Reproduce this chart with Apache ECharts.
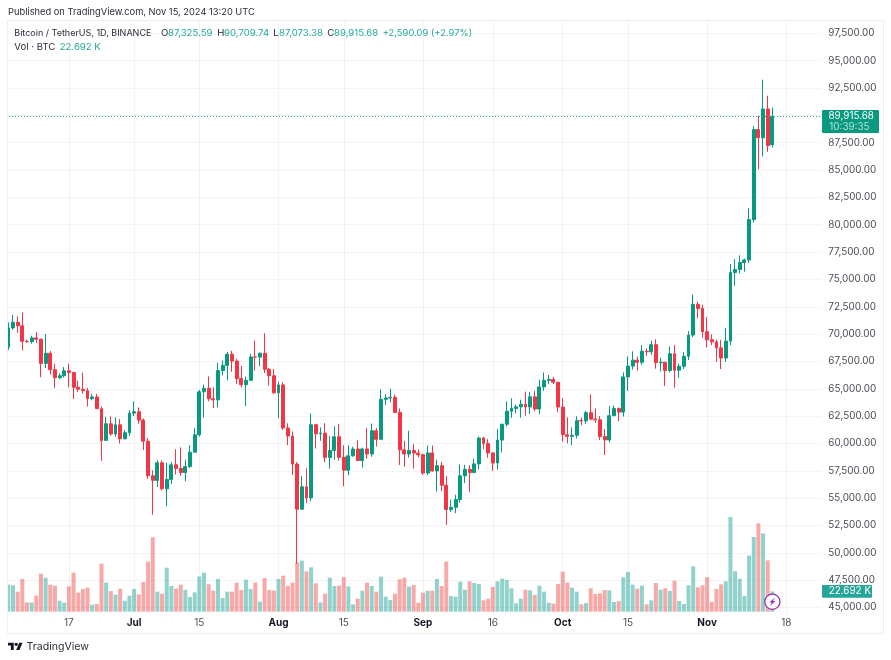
<!DOCTYPE html>
<html>
<head>
<meta charset="utf-8">
<title>BTCUSDT 1D</title>
<script src="https://cdn.jsdelivr.net/npm/echarts@6/dist/echarts.min.js"></script>
<style>
html, body { margin: 0; padding: 0; background: #fff; }
#chart { width: 891px; height: 660px; }
</style>
</head>
<body>
<div id="chart"></div>
<script>
// date, open, high, low, close, volume (thousand BTC)
const rows = [
['2024-06-04',68804,71063,68567,70567,30.2],['2024-06-05',70567,71758,70400,71082,29.5],['2024-06-06',71082,71625,70119,70757,22.4],
['2024-06-07',70757,71997,68500,69342,36.6],['2024-06-08',69342,69500,69210,69305,10.4],['2024-06-09',69305,69850,69126,69649,10.4],
['2024-06-10',69649,70195,69200,69538,17.9],['2024-06-11',69538,69590,66051,67321,42.5],['2024-06-12',67321,69999,66900,68243,38.0],
['2024-06-13',68243,68449,66304,66756,30.2],['2024-06-14',66747,67294,65056,66011,29.1],['2024-06-15',66006,66402,65871,66191,12.3],
['2024-06-16',66191,66983,66032,66639,10.1],['2024-06-17',66639,67298,65130,66490,28.3],['2024-06-18',66490,66556,64066,65140,43.6],
['2024-06-19',65146,65727,64693,64960,21.3],['2024-06-20',64960,66482,64559,64828,25.4],['2024-06-21',64828,65066,63379,64096,26.9],
['2024-06-22',64096,64525,63943,64252,7.8],['2024-06-23',64252,64523,63178,63180,8.6],['2024-06-24',63180,63369,58402,60277,53.7],
['2024-06-25',60277,62435,60240,61800,32.5],['2024-06-26',61800,62480,60712,60864,23.1],['2024-06-27',60864,62389,60606,61706,19.0],
['2024-06-28',61706,62225,59985,60427,25.7],['2024-06-29',60427,61224,60383,60986,12.3],['2024-06-30',60986,63058,60712,62772,17.9],
['2024-07-01',62772,63861,62497,62899,25.4],['2024-07-02',62900,63288,61806,62135,19.4],['2024-07-03',62135,62285,59400,60208,33.2],
['2024-07-04',60208,60498,56771,57050,56.0],['2024-07-05',57050,57546,53485,56628,83.2],['2024-07-06',56628,58475,56018,58230,22.4],
['2024-07-07',58230,58449,55724,55857,20.1],['2024-07-08',55857,58236,54260,56714,49.2],['2024-07-09',56714,58296,56289,58050,28.7],
['2024-07-10',58050,59470,57157,57725,25.7],['2024-07-11',57725,59650,57050,57339,30.2],['2024-07-12',57339,58526,56542,57889,24.6],
['2024-07-13',57889,59850,57756,59204,16.4],['2024-07-14',59204,61420,59204,60797,21.6],['2024-07-15',60797,64900,60632,64724,39.5],
['2024-07-16',64724,65388,62373,65043,43.6],['2024-07-17',65043,66128,63854,64087,30.6],['2024-07-18',64087,65133,63238,63987,23.5],
['2024-07-19',63987,67386,63300,66660,36.6],['2024-07-20',66660,67598,66222,67139,15.3],['2024-07-21',67139,68366,65777,68165,22.4],
['2024-07-22',68165,68474,66559,67532,22.4],['2024-07-23',67532,67750,65441,65936,32.5],['2024-07-24',65936,67102,65111,65372,24.2],
['2024-07-25',65372,66112,63426,65777,35.8],['2024-07-26',65777,68200,65721,67907,25.4],['2024-07-27',67907,69399,66650,67896,32.5],
['2024-07-28',67896,68318,67066,68249,11.2],['2024-07-29',68249,70079,66428,66784,37.7],['2024-07-30',66784,66900,65302,66188,24.2],
['2024-07-31',66188,66810,64530,64628,23.5],['2024-08-01',64628,65659,62302,65354,36.6],['2024-08-02',65354,65596,61236,61415,40.3],
['2024-08-03',61414,61839,59850,60680,28.7],['2024-08-04',60680,61100,57122,58116,32.5],['2024-08-05',58116,58305,49000,53991,55.2],
['2024-08-06',53991,57029,53962,56034,57.1],['2024-08-07',56034,57736,54558,55027,45.1],['2024-08-08',55027,62745,54730,61710,49.6],
['2024-08-09',61710,61800,59538,60880,31.7],['2024-08-10',60881,61470,60242,60945,10.4],['2024-08-11',60945,61855,58286,58719,20.1],
['2024-08-12',58719,60680,57688,59354,38.0],['2024-08-13',59354,61572,58506,60609,28.7],['2024-08-14',60609,61800,58433,58737,29.1],
['2024-08-15',58739,59849,56078,57560,38.8],['2024-08-16',57560,59850,57098,58874,28.3],['2024-08-17',58874,59700,58785,59493,8.2],
['2024-08-18',59493,60289,58408,58439,14.5],['2024-08-19',58439,59617,57787,59494,23.5],['2024-08-20',59494,61396,58610,59034,32.5],
['2024-08-21',59034,61820,58783,61159,28.7],['2024-08-22',61159,61400,59724,60381,22.4],['2024-08-23',60381,64955,60345,64037,39.2],
['2024-08-24',64037,64494,63531,64157,16.8],['2024-08-25',64157,65000,63773,64220,13.1],['2024-08-26',64220,64481,62800,62834,20.1],
['2024-08-27',62834,63212,58034,59415,36.2],['2024-08-28',59415,60235,57860,59034,38.0],['2024-08-29',59034,61166,58713,59359,28.0],
['2024-08-30',59359,59944,57700,59123,29.8],['2024-08-31',59123,59462,58744,58973,10.1],['2024-09-01',58973,59054,57120,57301,21.3],
['2024-09-02',57301,59809,57120,59132,23.5],['2024-09-03',59132,59809,57415,57487,23.5],['2024-09-04',57487,58519,55606,57970,36.6],
['2024-09-05',57970,58327,55643,56180,28.7],['2024-09-06',56180,57008,52550,53962,56.0],['2024-09-07',53962,54850,53745,54160,17.5],
['2024-09-08',54160,55318,53629,54869,16.8],['2024-09-09',54869,58088,54591,57042,33.6],['2024-09-10',57042,58044,56386,57635,24.6],
['2024-09-11',57635,58000,55550,57338,33.9],['2024-09-12',57338,58588,57324,58132,32.1],['2024-09-13',58132,60625,57632,60498,31.0],
['2024-09-14',60498,60610,59455,59993,12.7],['2024-09-15',59993,60395,58691,59132,14.5],['2024-09-16',59132,59210,57493,58213,27.6],
['2024-09-17',58213,61320,57610,60309,33.9],['2024-09-18',60309,61786,59174,61759,36.9],['2024-09-19',61759,63850,61555,62947,35.4],
['2024-09-20',62947,64133,62350,63201,26.1],['2024-09-21',63201,63559,62758,63348,9.3],['2024-09-22',63348,64000,62357,63578,14.5],
['2024-09-23',63578,64745,62538,63339,24.6],['2024-09-24',63339,64688,62700,64262,23.9],['2024-09-25',64262,64817,62947,63152,18.7],
['2024-09-26',63152,65839,62670,65173,29.1],['2024-09-27',65173,66498,64819,65769,22.4],['2024-09-28',65769,66260,65422,65858,10.1],
['2024-09-29',65858,66076,65432,65602,9.0],['2024-09-30',65602,65618,62856,63327,31.0],['2024-10-01',63327,64130,60164,60805,44.8],
['2024-10-02',60804,62390,60000,60649,32.5],['2024-10-03',60649,61477,59828,60752,26.9],['2024-10-04',60751,62484,60459,62086,22.4],
['2024-10-05',62086,62370,61689,62058,8.2],['2024-10-06',62058,62975,61798,62819,9.7],['2024-10-07',62819,64478,62128,62224,26.1],
['2024-10-08',62224,63200,61860,62160,19.8],['2024-10-09',62160,62500,60300,60636,20.5],['2024-10-10',60636,61321,58946,60326,24.2],
['2024-10-11',60326,63417,60087,62540,23.9],['2024-10-12',62540,63480,62487,63206,10.8],['2024-10-13',63206,63285,62050,62870,11.9],
['2024-10-14',62870,66500,62457,66083,38.4],['2024-10-15',66083,67950,64800,67074,44.4],['2024-10-16',67074,68424,66750,67620,30.2],
['2024-10-17',67620,67939,66666,67421,25.7],['2024-10-18',67421,69000,67192,68428,29.1],['2024-10-19',68428,68693,68010,68379,8.2],
['2024-10-20',68379,69400,68100,69031,12.7],['2024-10-21',69031,69519,66840,67377,32.1],['2024-10-22',67377,67836,66571,67426,24.6],
['2024-10-23',67426,67472,65260,66668,26.1],['2024-10-24',66668,68850,66510,68198,23.1],['2024-10-25',68198,69000,65089,66698,34.7],
['2024-10-26',66698,67317,66000,67061,11.9],['2024-10-27',67061,68375,66800,67966,8.6],['2024-10-28',67966,70270,67620,69907,29.5],
['2024-10-29',69907,73620,69730,72720,50.7],['2024-10-30',72720,72985,71436,72339,27.2],['2024-10-31',72339,72700,69685,70215,29.5],
['2024-11-01',70215,71560,68779,69482,38.8],['2024-11-02',69482,69981,69000,69289,10.8],['2024-11-03',69289,69500,67458,68741,25.4],
['2024-11-04',68741,69480,66800,67811,30.6],['2024-11-05',67811,70577,67458,69359,33.9],['2024-11-06',69359,76400,69000,75639,105.9],
['2024-11-07',75639,76849,74416,75904,45.1],['2024-11-08',75904,77199,75556,76545,36.9],['2024-11-09',76545,76900,75714,76778,17.5],
['2024-11-10',76778,81500,76500,80474,62.7],['2024-11-11',80474,89000,80216,88701,83.6],['2024-11-12',88701,89956,85072,87955,98.8],
['2024-11-13',87955,93265,86244,90584,87.7],['2024-11-14',90584,91800,86668,87250,57.4],['2024-11-15',87325.59,90709.74,87073.38,89915.68,22.692]
];

const UP = '#089981', DOWN = '#F23645';
const font = 'Inter, "Liberation Sans", sans-serif';

// empty days on the right of the last bar
const dates = rows.map(r => r[0]);
for (let d = new Date('2024-11-16T00:00:00Z'); dates.length < 175; d.setUTCDate(d.getUTCDate() + 1)) {
    dates.push(d.toISOString().slice(0, 10));
}

const xLabels = {
    '2024-06-17': '17', '2024-07-01': '{b|Jul}', '2024-07-15': '15', '2024-08-01': '{b|Aug}', '2024-08-15': '15',
    '2024-09-01': '{b|Sep}', '2024-09-16': '16', '2024-10-01': '{b|Oct}', '2024-10-15': '15', '2024-11-01': '{b|Nov}', '2024-11-18': '18'
};
const priceTicks = [];
for (let p = 45000; p <= 97500; p += 2500) priceTicks.push(p);

const chart = echarts.init(document.getElementById('chart'), null, { renderer: 'canvas' });
chart.setOption({
    animation: false,
    backgroundColor: '#fff',
    textStyle: { fontFamily: font },
    grid: { left: 6, right: 69.7, top: 21.7, bottom: 46.3 },
    xAxis: {
        type: 'category',
        data: dates,
        axisLine: { show: false },
        axisTick: { show: false },
        axisLabel: {
            interval: i => !!xLabels[dates[i]],
            formatter: v => xLabels[v] || '',
            color: '#4a4d57',
            fontSize: 10,
            fontFamily: font,
            margin: 4,
            rich: { b: { fontWeight: 'bold', fontSize: 10, color: '#131722', fontFamily: font } }
        },
        splitLine: {
            show: true,
            alignWithLabel: true,
            interval: i => !!xLabels[dates[i]],
            lineStyle: { color: '#f1f2f5', width: 1 }
        }
    },
    yAxis: [{
        type: 'value',
        position: 'right',
        min: 44433,
        max: 98566,
        axisLine: { show: false },
        axisTick: { show: false, customValues: priceTicks },
        axisLabel: {
            customValues: priceTicks,
            formatter: v => v.toLocaleString('en-US', { minimumFractionDigits: 2 }),
            color: '#4a4d57',
            fontSize: 9.9,
            fontFamily: font,
            margin: 7
        },
        splitLine: { show: true, lineStyle: { color: '#f3f4f6', width: 1 } }
    }, {
        type: 'value',
        show: false,
        min: -2.236,
        max: 659.6,
        splitLine: { show: false }
    }],
    series: [{
        name: 'Vol',
        type: 'bar',
        yAxisIndex: 1,
        barWidth: 4,
        z: 1,
        data: rows.map(r => ({
            value: r[5],
            itemStyle: { color: r[4] >= r[1] ? 'rgba(38,166,154,0.5)' : 'rgba(239,83,80,0.5)' }
        }))
    }, {
        name: 'BTCUSDT',
        type: 'candlestick',
        z: 3,
        barWidth: 3.4,
        itemStyle: { color: UP, color0: DOWN, borderColor: UP, borderColor0: DOWN, borderWidth: 1 },
        data: rows.map(r => [r[1], r[4], r[3], r[2]]),
        markLine: {
            silent: true,
            symbol: 'none',
            animation: false,
            label: { show: false },
            lineStyle: { color: '#26a69a', type: [1, 2], width: 1, opacity: 1 },
            data: [{ yAxis: 89915.68 }]
        }
    }]
});

// header, price tags, border and logo
const px = (axis, v) => chart.convertToPixel({ yAxisIndex: axis }, v);
const lastY = px(0, 89915.68);
const volY = px(1, 22.692);
const lastX = chart.convertToPixel({ xAxisIndex: 0 }, '2024-11-15');
const label = (x, y, text, fill, size) => ({
    type: 'text', x, y, z: 20, silent: true,
    style: { text, fill: fill || '#2a2e39', font: (size || 9.6) + 'px ' + font, textVerticalAlign: 'middle' }
});
const logoPts = pts => pts.map(p => [8 + p[0] * 0.41, 641 + p[1] * 0.41]);
const VAL = '#22ab94';
chart.setOption({
    graphic: [
        { type: 'rect', z: 14, silent: true, shape: { x: 0, y: 21, width: 7.5, height: 600 }, style: { fill: '#fff' } },
        { type: 'rect', z: 15, silent: true, shape: { x: 7.5, y: 20.5, width: 876, height: 613 }, style: { fill: 'none', stroke: '#eceef2', lineWidth: 1 } },
        label(8, 12, 'Published on TradingView.com, Nov 15, 2024 13:20 UTC', '#2a2e39', 9.3),
        label(14.3, 33.3, 'Bitcoin / TetherUS, 1D, BINANCE', '#2a2e39', 9),
        label(161, 33.3, 'O'), label(168, 33.3, '87,325.59', VAL),
        label(217.3, 33.3, 'H'), label(224, 33.3, '90,709.74', VAL),
        label(273.3, 33.3, 'L'), label(279, 33.3, '87,073.38', VAL),
        label(327.3, 33.3, 'C'), label(334, 33.3, '89,915.68', VAL),
        label(382.7, 33.3, '+2,590.09 (+2.97%)', VAL, 9.4),
        label(14.3, 46.7, 'Vol · BTC'),
        label(59.7, 46.7, '22.692 K', VAL),
        { type: 'rect', z: 18, silent: true, shape: { x: 822, y: lastY - 6.3, width: 57, height: 23, r: 1 }, style: { fill: UP } },
        label(828.5, lastY, '89,915.68', '#fff', 9.9),
        label(829.3, lastY + 10.6, '10:39:35', 'rgba(255,255,255,0.7)', 9.9),
        { type: 'rect', z: 18, silent: true, shape: { x: 822, y: volY - 6.4, width: 50, height: 12.8, r: 1 }, style: { fill: '#26a69a' } },
        label(828.7, volY, '22.692 K', '#fff', 9.9),
        { type: 'circle', z: 18, silent: true, shape: { cx: lastX, cy: 601.8, r: 7.6 }, style: { fill: '#fff', stroke: '#9c27b0', lineWidth: 1.2 } },
        { type: 'polygon', z: 19, silent: true, shape: { points: [[lastX + 2.6, 597.4], [lastX - 3, 602.6], [lastX - 0.4, 602.6], [lastX - 2.6, 606.2], [lastX + 3, 601], [lastX + 0.4, 601]] }, style: { fill: '#9c27b0' } },
        { type: 'polygon', z: 20, silent: true, shape: { points: logoPts([[14, 22], [7, 22], [7, 11], [0, 11], [0, 4], [14, 4]]) }, style: { fill: '#131722' } },
        { type: 'polygon', z: 20, silent: true, shape: { points: logoPts([[28, 22], [20, 22], [27.5, 4], [35.5, 4]]) }, style: { fill: '#131722' } },
        { type: 'circle', z: 20, silent: true, shape: { cx: 16.2, cy: 644.3, r: 1.65 }, style: { fill: '#131722' } },
        label(26.5, 646.7, 'TradingView', '#2a2e39', 10.6)
    ]
});
</script>
</body>
</html>
